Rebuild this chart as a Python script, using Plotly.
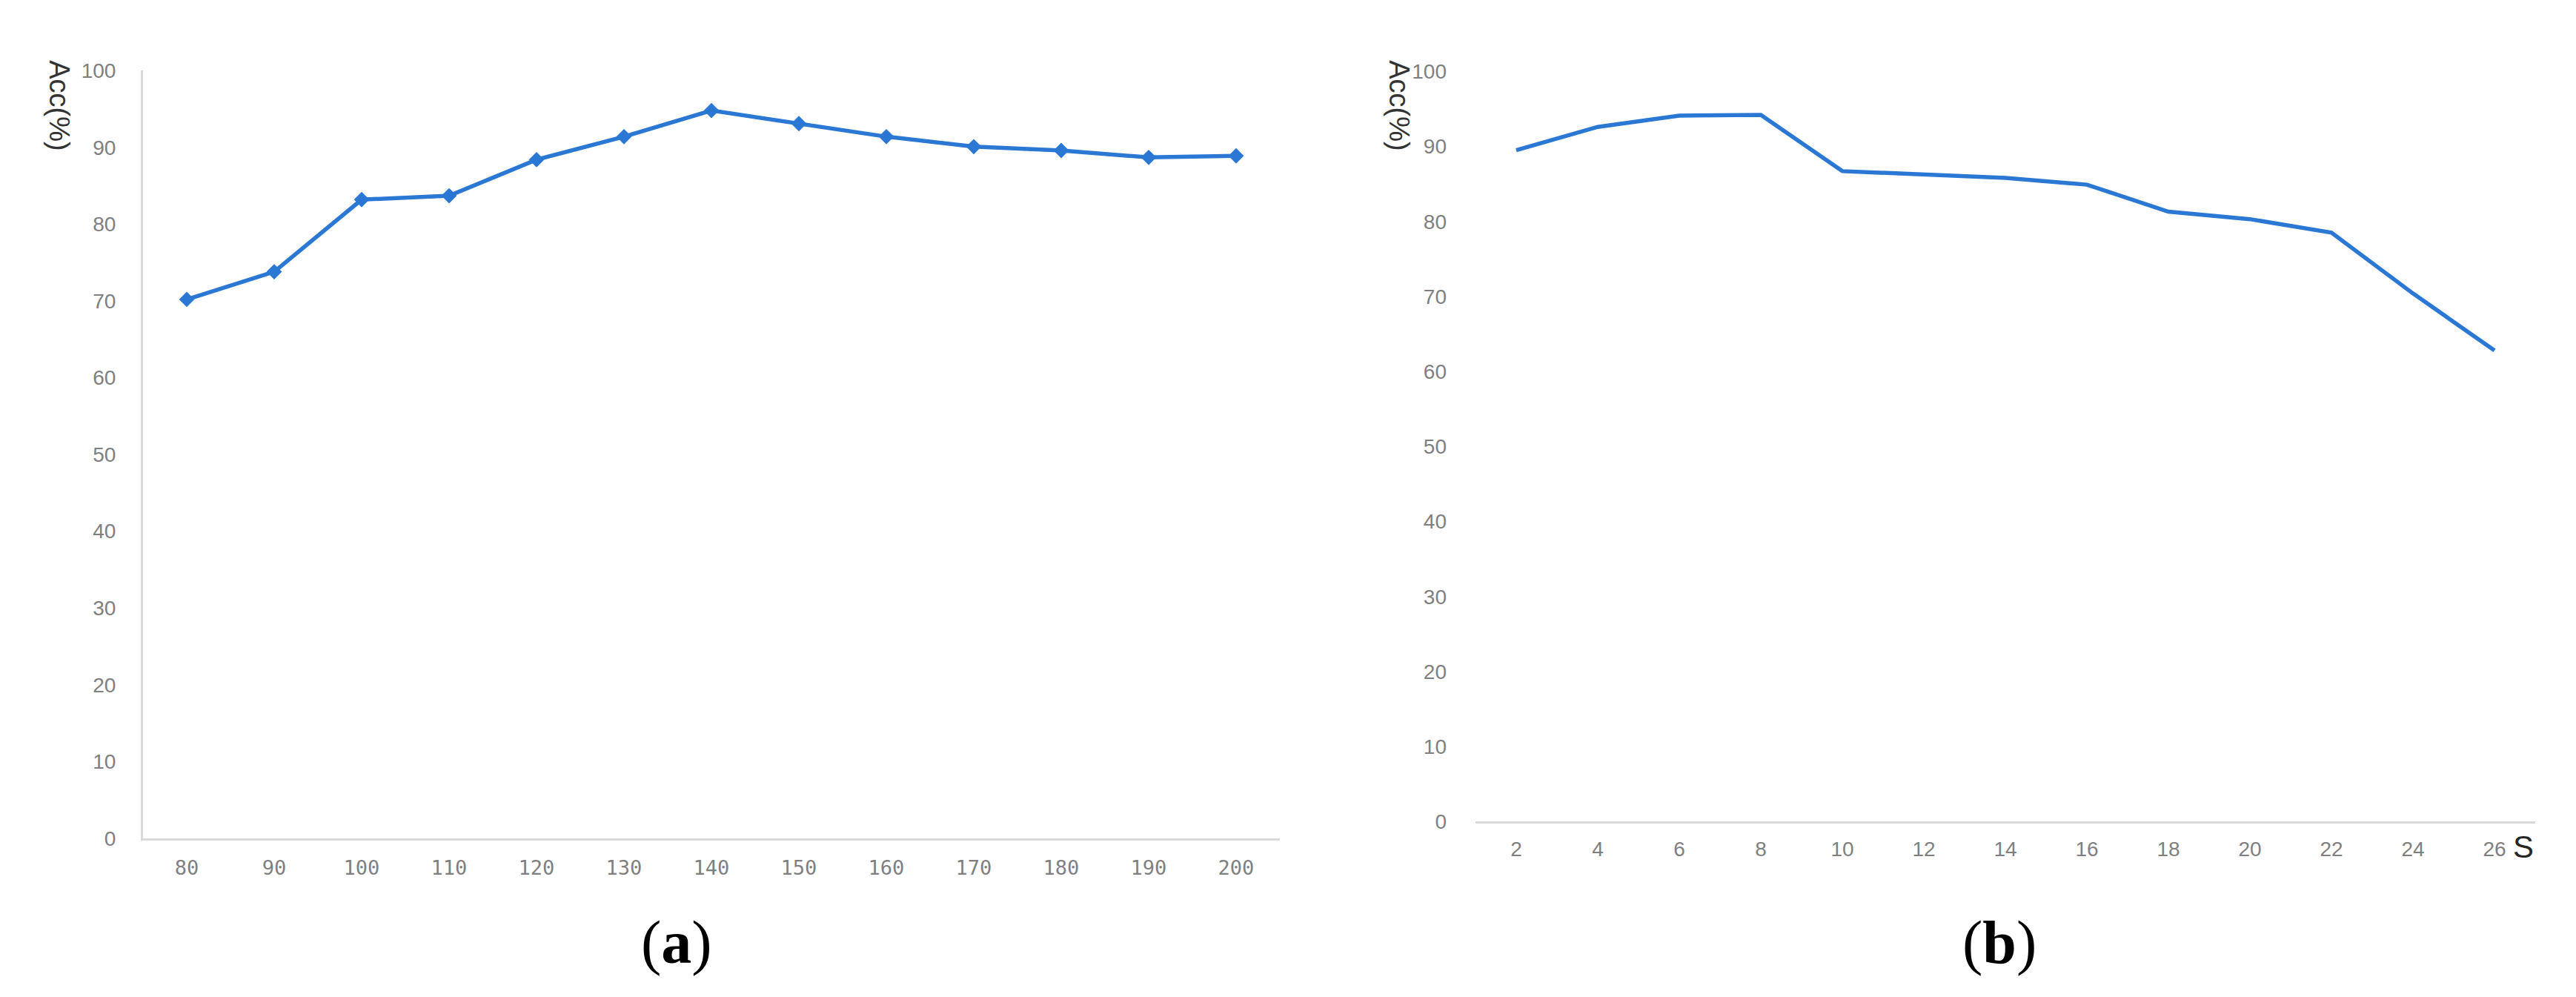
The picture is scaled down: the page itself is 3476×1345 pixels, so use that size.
import plotly.graph_objects as go

# (a) accuracy vs first parameter
x_a = ["80", "90", "100", "110", "120", "130", "140", "150", "160", "170", "180", "190", "200"]
acc_a = [70.2, 73.8, 83.2, 83.7, 88.4, 91.4, 94.8, 93.1, 91.4, 90.1, 89.6, 88.7, 88.9]

# (b) accuracy vs S
x_b = ["2", "4", "6", "8", "10", "12", "14", "16", "18", "20", "22", "24", "26"]
acc_b = [89.5, 92.6, 94.1, 94.2, 86.7, 86.2, 85.8, 84.9, 81.3, 80.3, 78.5, 70.4, 62.8]

y_ticks = [0, 10, 20, 30, 40, 50, 60, 70, 80, 90, 100]

W, H = 3476, 1345
blue = "#2b78d4"
axis_grey = "#d9d9d9"
tick_grey = "#7f7f7f"

fig = go.Figure()

fig.add_trace(go.Scatter(x=x_a, y=acc_a, mode="lines+markers",
                         line=dict(color=blue, width=5.5),
                         marker=dict(symbol="diamond", size=16, color=blue),
                         xaxis="x", yaxis="y", showlegend=False))

fig.add_trace(go.Scatter(x=x_b, y=acc_b, mode="lines",
                         line=dict(color=blue, width=5.5),
                         xaxis="x2", yaxis="y2", showlegend=False))

narrow = dict(family="Liberation Sans, Arial, sans-serif", size=28, color=tick_grey)
mono = dict(family="DejaVu Sans Mono, monospace", size=27, color=tick_grey)

fig.update_layout(
    width=W, height=H,
    margin=dict(l=0, r=0, t=0, b=0),
    plot_bgcolor="white", paper_bgcolor="white",
    xaxis=dict(domain=[185 / W, 1719 / W], type="category", range=[-0.5, 12.5],
               showgrid=False, zeroline=False, showline=True, linecolor=axis_grey, linewidth=3,
               ticks="", tickfont=mono, ticklabelstandoff=14, anchor="y"),
    yaxis=dict(domain=[1 - 1134 / H, 1 - 74 / H], range=[0, 100], tickvals=y_ticks,
               showgrid=False, zeroline=False, showline=True, linecolor=axis_grey, linewidth=3,
               ticks="", tickfont=narrow, ticklabelstandoff=28, anchor="x"),
    xaxis2=dict(domain=[1983 / W, 3413 / W], type="category", range=[-0.5, 12.5],
                showgrid=False, zeroline=False, showline=True, linecolor=axis_grey, linewidth=3,
                ticks="", tickfont=narrow, ticklabelstandoff=10, anchor="y2"),
    yaxis2=dict(domain=[1 - 1111 / H, 1 - 75 / H], range=[0, 100], tickvals=y_ticks,
                showgrid=False, zeroline=False, showline=False,
                ticks="", tickfont=narrow, ticklabelstandoff=38, anchor="x2"),
)

label_font = dict(family="Liberation Sans, Arial, sans-serif", size=38, color="#333333")
fig.add_annotation(text="Acc(%)", x=72 / W, y=1 - 122 / H, xref="paper", yref="paper",
                   xanchor="center", yanchor="middle",
                   textangle=90, showarrow=False, font=label_font)
fig.add_annotation(text="Acc(%)", x=1880 / W, y=1 - 122 / H, xref="paper", yref="paper",
                   xanchor="center", yanchor="middle",
                   textangle=90, showarrow=False, font=label_font)
fig.add_annotation(text="S", x=3397 / W, y=1 - 1146 / H, xref="paper", yref="paper",
                   xanchor="center", yanchor="middle", showarrow=False,
                   font=dict(family="Liberation Sans, Arial, sans-serif", size=42, color="#262626"))

cap_font = dict(family="Liberation Serif, Times New Roman, serif", size=82, color="black")
fig.add_annotation(text="(<b>a</b>)", x=905 / W, y=1 - 1278 / H, xref="paper", yref="paper",
                   xanchor="center", yanchor="middle", showarrow=False, font=cap_font)
fig.add_annotation(text="(<b>b</b>)", x=2690 / W, y=1 - 1278 / H, xref="paper", yref="paper",
                   xanchor="center", yanchor="middle", showarrow=False, font=cap_font)

fig.write_html("out.html")
